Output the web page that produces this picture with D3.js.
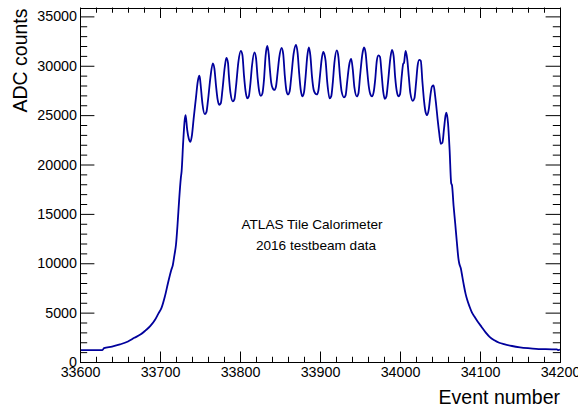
<!DOCTYPE html>
<html>
<head>
<meta charset="utf-8">
<script src="https://cdn.jsdelivr.net/npm/d3@7"></script>
<style>
  html, body { margin: 0; padding: 0; background: #fff; }
  svg { display: block; font-family: "Liberation Sans", Arial, Helvetica, sans-serif; }
</style>
</head>
<body>
<svg id="chart" width="578" height="409"></svg>
<script>
// Event numbers and ADC counts of the beam-scan profile
const events = [
  33600, 33628, 33630, 33640, 33650, 33660, 33668, 33676, 33682, 33688, 33694, 33698,
  33702, 33706, 33710, 33714, 33716, 33718, 33720, 33722, 33724, 33726, 33727, 33729,
  33731, 33732, 33734, 33736, 33738, 33740, 33742, 33745, 33747, 33749, 33750, 33751,
  33753, 33756, 33758, 33760, 33763, 33766, 33768, 33770, 33772, 33774, 33776, 33778,
  33781, 33783, 33785, 33786, 33788, 33791, 33793, 33795, 33798, 33801, 33803, 33805,
  33807, 33809, 33811, 33813, 33815, 33818, 33820, 33822, 33824, 33826, 33828, 33830,
  33832, 33834, 33836, 33837, 33839, 33841, 33843, 33845, 33847, 33849, 33852, 33854,
  33856, 33858, 33860, 33862, 33864, 33867, 33870, 33872, 33874, 33876, 33878, 33880,
  33882, 33884, 33886, 33888, 33890, 33892, 33894, 33896, 33898, 33900, 33902, 33904,
  33906, 33907, 33909, 33912, 33914, 33916, 33918, 33921, 33923, 33925, 33927, 33930,
  33932, 33934, 33936, 33937, 33939, 33941, 33943, 33946, 33948, 33950, 33953, 33955,
  33957, 33959, 33961, 33963, 33965, 33967, 33969, 33971, 33973, 33975, 33977, 33979,
  33981, 33983, 33985, 33988, 33990, 33992, 33994, 33996, 33998, 34000, 34002, 34004,
  34005, 34007, 34009, 34011, 34013, 34016, 34018, 34020, 34022, 34024, 34026, 34028,
  34030, 34032, 34034, 34036, 34038, 34040, 34042, 34044, 34045, 34047, 34049, 34051,
  34053, 34055, 34057, 34058, 34060, 34062, 34064, 34065, 34067, 34069, 34071, 34073,
  34074, 34076, 34078, 34080, 34082, 34084, 34087, 34090, 34093, 34097, 34102, 34107,
  34112, 34118, 34124, 34130, 34140, 34150, 34160, 34170, 34180, 34190, 34196, 34198,
  34200
];
const adcCounts = [
  1200, 1210, 1400, 1560, 1780, 2080, 2450, 2800, 3200, 3650, 4300, 4900,
  5500, 6600, 8000, 9300, 9800, 10800, 11900, 14000, 16500, 18600, 19300, 22300,
  24600, 25000, 23500, 22600, 22300, 23000, 24600, 26800, 28300, 29000, 28700, 27900,
  26200, 25100, 25300, 26500, 28800, 30250, 29700, 28000, 26600, 26050, 26200, 27500,
  29900, 30800, 30300, 29100, 27300, 26400, 26600, 27900, 30400, 31500, 31100, 29000,
  27400, 26700, 26900, 28200, 30000, 31350, 30800, 28800, 27400, 26950, 27200, 28600,
  31000, 32000, 31100, 30000, 28300, 27700, 27550, 27900, 29300, 30800, 31800, 31200,
  29000, 27500, 27100, 27400, 28800, 31200, 32100, 31300, 29200, 27500, 26900, 27300,
  28900, 30900, 31850, 31000, 28900, 27600, 27200, 27100, 27500, 29000, 30600, 31400,
  31000, 30500, 28400, 26700, 26900, 28300, 30300, 31550, 30900, 28900, 27400, 26800,
  27000, 28400, 29800, 30300, 30700, 29600, 27800, 26900, 27200, 28900, 31200, 31850,
  31300, 29500, 27900, 27100, 26900, 27300, 28600, 30500, 31050, 30900, 29200, 27400,
  26650, 26900, 28300, 30800, 31600, 31000, 28800, 27400, 26900, 27100, 28800, 30200,
  30300, 31500, 30700, 28900, 27200, 26450, 26700, 28200, 30000, 30600, 30500, 28400,
  26500, 25300, 25000, 25600, 27000, 27900, 28000, 26900, 26200, 24600, 23200, 22100,
  22200, 23600, 25000, 25250, 24200, 21500, 18100, 17900, 15800, 14050, 12200, 10500,
  10000, 9500, 8600, 7700, 6900, 6300, 5600, 5000, 4600, 4100, 3550, 3000,
  2550, 2200, 1950, 1800, 1620, 1490, 1400, 1330, 1300, 1280, 1280, 1200,
  1260
];
const xTickValues = [33600, 33700, 33800, 33900, 34000, 34100, 34200];
const yTickValues = [0, 5000, 10000, 15000, 20000, 25000, 30000, 35000];
const noteLines = ["ATLAS Tile Calorimeter", "2016 testbeam data"];

const svg = d3.select("#chart");
const frame = { left: 80, right: 560, top: 7.5, bottom: 362 };

const x = d3.scaleLinear().domain([33600, 34200]).range([frame.left, frame.right]);
const y = d3.scaleLinear().domain([0, 35900]).range([frame.bottom, frame.top]);

const xMinor = d3.range(33600, 34200.1, 20).filter(v => !xTickValues.includes(v));
const yMinor = d3.range(0, 35900, 1000).filter(v => !yTickValues.includes(v));

// Curve
const points = events.map((e, i) => [e, adcCounts[i]]);
svg.append("path")
  .datum(points)
  .attr("fill", "none")
  .attr("stroke", "#00009c")
  .attr("stroke-width", 1.8)
  .attr("stroke-linejoin", "round")
  .attr("d", d3.line().x(d => x(d[0])).y(d => y(d[1])).curve(d3.curveMonotoneX));

// Axes with ticks on all four sides
const tickStyle = g => {
  g.select(".domain").remove();
  g.selectAll("line").attr("stroke", "#000").attr("stroke-width", 1);
};

// bottom major with labels
svg.append("g")
  .attr("transform", `translate(0,${frame.bottom})`)
  .call(d3.axisBottom(x).tickValues(xTickValues).tickSize(-10.5).tickPadding(0).tickFormat(d3.format("d")))
  .call(tickStyle)
  .call(g => g.selectAll("text").attr("font-size", 14.3).attr("fill", "#000")
    .attr("y", 15).attr("dy", 0).attr("font-family", "Liberation Sans, Arial, sans-serif"));
svg.append("g")
  .attr("transform", `translate(0,${frame.bottom})`)
  .call(d3.axisBottom(x).tickValues(xMinor).tickSize(-5.25).tickFormat(""))
  .call(tickStyle);
// top
svg.append("g")
  .attr("transform", `translate(0,${frame.top})`)
  .call(d3.axisTop(x).tickValues(xTickValues).tickSize(-10.5).tickFormat(""))
  .call(tickStyle);
svg.append("g")
  .attr("transform", `translate(0,${frame.top})`)
  .call(d3.axisTop(x).tickValues(xMinor).tickSize(-5.25).tickFormat(""))
  .call(tickStyle);
// left
svg.append("g")
  .attr("transform", `translate(${frame.left},0)`)
  .call(d3.axisLeft(y).tickValues(yTickValues).tickSize(-14.4).tickPadding(3).tickFormat(d3.format("d")))
  .call(tickStyle)
  .call(g => g.selectAll("text").attr("font-size", 14.3).attr("fill", "#000")
    .attr("x", -3).attr("font-family", "Liberation Sans, Arial, sans-serif"));
svg.append("g")
  .attr("transform", `translate(${frame.left},0)`)
  .call(d3.axisLeft(y).tickValues(yMinor).tickSize(-7.2).tickFormat(""))
  .call(tickStyle);
// right
svg.append("g")
  .attr("transform", `translate(${frame.right},0)`)
  .call(d3.axisRight(y).tickValues(yTickValues).tickSize(-14.4).tickFormat(""))
  .call(tickStyle);
svg.append("g")
  .attr("transform", `translate(${frame.right},0)`)
  .call(d3.axisRight(y).tickValues(yMinor).tickSize(-7.2).tickFormat(""))
  .call(tickStyle);

// Frame
svg.append("rect")
  .attr("x", frame.left + 0.5).attr("y", Math.round(frame.top) + 0.5)
  .attr("width", frame.right - frame.left)
  .attr("height", frame.bottom - Math.round(frame.top))
  .attr("fill", "none").attr("stroke", "#000").attr("stroke-width", 1);

// Axis titles
svg.append("text")
  .attr("x", frame.right).attr("y", 404)
  .attr("text-anchor", "end")
  .attr("font-size", 19.5)
  .text("Event number");
svg.append("text")
  .attr("transform", `translate(27,${frame.top + 1}) rotate(-90)`)
  .attr("text-anchor", "end")
  .attr("font-size", 19.5)
  .text("ADC counts");

// Annotation
svg.append("g").selectAll("text")
  .data(noteLines)
  .join("text")
  .attr("x", (d, i) => i === 0 ? 312 : 316)
  .attr("y", (d, i) => 229 + i * 21)
  .attr("text-anchor", "middle")
  .attr("font-size", 13.6)
  .text(d => d);
</script>
</body>
</html>
